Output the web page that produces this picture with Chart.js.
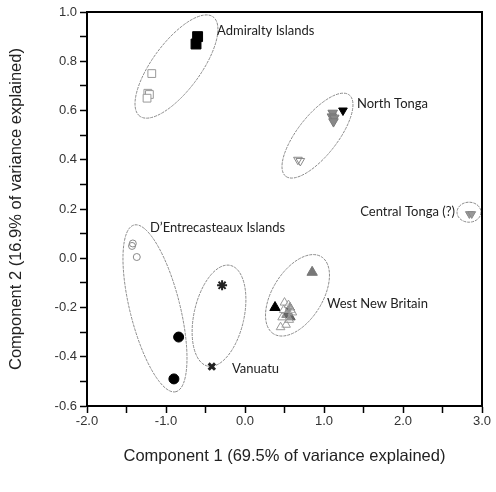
<!DOCTYPE html>
<html>
<head>
<meta charset="utf-8">
<script src="https://cdn.jsdelivr.net/npm/chart.js@4"></script>
<style>
  html, body { margin: 0; padding: 0; background: #fff; }
  #wrap { width: 496px; height: 492px; }
</style>
</head>
<body>
<div id="wrap"><canvas id="pca"></canvas></div>
<script>
// PCA scores, [component 1, component 2]
const admiraltyFilled = [[-0.60, 0.90], [-0.62, 0.87]];
const admiraltyOpen = [[-1.18, 0.75], [-1.23, 0.67], [-1.21, 0.665], [-1.24, 0.65]];
const northTongaBlack = [[1.24, 0.60]];
const northTongaGray = [[1.11, 0.59], [1.10, 0.575], [1.13, 0.57], [1.12, 0.555]];
const northTongaOpen = [[0.67, 0.40], [0.70, 0.395]];
const centralTonga = [[2.84, 0.18], [2.87, 0.18]];
const dentreOpen = [[-1.42, 0.06], [-1.43, 0.05], [-1.37, 0.005]];
const dentreFilled = [[-0.84, -0.32], [-0.90, -0.49]];
const vanuatuStar = [[-0.29, -0.11]];
const vanuatuCross = [[-0.42, -0.44]];
const wnbBlack = [[0.38, -0.20]];
const wnbGrayBig = [[0.85, -0.057]];
const wnbOpen = [[0.50, -0.18], [0.55, -0.19], [0.58, -0.21], [0.47, -0.24], [0.52, -0.27],
                 [0.60, -0.22], [0.49, -0.21], [0.56, -0.25], [0.45, -0.28]];
const wnbGray = [[0.55, -0.22], [0.58, -0.24], [0.52, -0.23], [0.57, -0.20]];

// group ellipses: major axis end points in data units
const ellipseEnds = [
  [-0.403, 0.980, -1.332, 0.577],
  [1.320, 0.663, 0.515, 0.333],
  [2.684, 0.187, 2.987, 0.187],
  [-1.404, 0.135, -0.875, -0.542],
  [-0.186, -0.029, -0.472, -0.438],
  [0.967, 0.006, 0.362, -0.307]
];
const ellipseHalfWidths = [24, 20, 10, 25, 25, 25];

// group labels
const labelNames = ['Admiralty Islands', 'North Tonga', 'Central Tonga (?)',
  'D\u2019Entrecasteaux Islands', 'Vanuatu', 'West New Britain'];
const labelX = [-0.354, 1.418, 2.658, -1.203, -0.165, 1.038];
const labelY = [0.923, 0.626, 0.187, 0.122, -0.451, -0.187];
const labelAlign = ['left', 'left', 'right', 'left', 'left', 'left'];

function pts(arr) {
  return arr.map(p => ({ x: p[0], y: p[1] }));
}

function series(arr, style, radius, fill, border, width, rotation) {
  return {
    data: pts(arr),
    pointStyle: style,
    pointRadius: radius,
    pointBackgroundColor: fill,
    pointBorderColor: border,
    pointBorderWidth: width,
    pointRotation: rotation || 0
  };
}

const datasets = [
  series(admiraltyOpen, 'rect', 5.5, '#fff', '#999', 1),
  series(admiraltyFilled, 'rect', 7, '#000', '#000', 1),
  series(northTongaOpen, 'triangle', 5, 'rgba(255,255,255,0)', '#888', 1, 180),
  series(northTongaGray, 'triangle', 5.5, '#888', '#777', 1, 180),
  series(northTongaBlack, 'triangle', 5, '#000', '#000', 1, 180),
  series(centralTonga, 'triangle', 4.5, '#999', '#888', 1, 180),
  series(dentreOpen, 'circle', 3.5, 'rgba(255,255,255,0)', '#888', 1),
  series(dentreFilled, 'circle', 5, '#000', '#000', 1),
  series(vanuatuStar, 'star', 5, '#000', '#222', 2),
  series(vanuatuCross, 'crossRot', 4.5, '#000', '#222', 3),
  series(wnbOpen, 'triangle', 5, 'rgba(255,255,255,0.3)', '#999', 1),
  series(wnbGray, 'triangle', 5, '#666', '#555', 1),
  series(wnbBlack, 'triangle', 6, '#000', '#000', 1),
  series(wnbGrayBig, 'triangle', 6, '#777', '#777', 1)
];

// ellipses, frame and labels drawn with the chart's scales
const overlay = {
  id: 'overlay',
  beforeDatasetsDraw(chart) {
    const { ctx, scales: { x, y } } = chart;
    ctx.save();
    ctx.strokeStyle = '#8a8a8a';
    ctx.lineWidth = 1;
    ctx.setLineDash([3, 1]);
    ellipseEnds.forEach((e, i) => {
      const x1 = x.getPixelForValue(e[0]), y1 = y.getPixelForValue(e[1]);
      const x2 = x.getPixelForValue(e[2]), y2 = y.getPixelForValue(e[3]);
      const a = Math.hypot(x2 - x1, y2 - y1) / 2;
      const ang = Math.atan2(y2 - y1, x2 - x1);
      ctx.beginPath();
      ctx.ellipse((x1 + x2) / 2, (y1 + y2) / 2, a, ellipseHalfWidths[i], ang, 0, Math.PI * 2);
      ctx.stroke();
    });
    ctx.restore();
  },
  afterDraw(chart) {
    const { ctx, chartArea: a, scales: { x, y } } = chart;
    ctx.save();
    ctx.strokeStyle = '#000';
    ctx.lineWidth = 2;
    ctx.strokeRect(a.left, a.top, a.right - a.left, a.bottom - a.top);
    ctx.fillStyle = '#222';
    ctx.font = '13px Lato, "Open Sans", sans-serif';
    ctx.textBaseline = 'middle';
    labelNames.forEach((t, i) => {
      ctx.textAlign = labelAlign[i];
      ctx.fillText(t, x.getPixelForValue(labelX[i]), y.getPixelForValue(labelY[i]));
    });
    ctx.restore();
  }
};

const tickGrid = {
  display: true,
  drawOnChartArea: false,
  drawTicks: true,
  tickLength: 7,
  tickWidth: 1.5,
  tickColor: '#000'
};

const axisFont = 'Arial, "Liberation Sans", sans-serif';

new Chart(document.getElementById('pca'), {
  type: 'scatter',
  data: { datasets: datasets },
  options: {
    responsive: true,
    maintainAspectRatio: false,
    animation: false,
    layout: { padding: { top: 12, right: 14, left: 3, bottom: 22 } },
    plugins: {
      legend: { display: false },
      tooltip: { enabled: false }
    },
    scales: {
      x: {
        min: -2, max: 3,
        border: { display: true, color: '#000', width: 2 },
        grid: tickGrid,
        ticks: {
          stepSize: 0.5,
          autoSkip: false,
          maxRotation: 0,
          padding: 1,
          color: '#333',
          font: { family: axisFont, size: 13 },
          callback: v => (Math.round(v * 2) % 2 === 0 ? v.toFixed(1) : '')
        },
        title: {
          display: true,
          text: 'Component 1 (69.5% of variance explained)',
          color: '#222',
          font: { family: axisFont, size: 16.5 },
          padding: { top: 0 }
        },
        afterFit(scale) { scale.height = 64; }
      },
      y: {
        min: -0.6, max: 1.0,
        border: { display: true, color: '#000', width: 2 },
        grid: tickGrid,
        ticks: {
          stepSize: 0.1,
          autoSkip: false,
          padding: 3,
          color: '#333',
          font: { family: axisFont, size: 13 },
          callback: v => (Math.round(v * 10) % 2 === 0 ? (Math.round(v * 10) / 10).toFixed(1) : '')
        },
        title: {
          display: true,
          text: 'Component 2 (16.9% of variance explained)',
          color: '#222',
          font: { family: axisFont, size: 16.5 },
          padding: { bottom: 4 }
        },
        afterFit(scale) { scale.width = 84; }
      }
    }
  },
  plugins: [overlay]
});
</script>
</body>
</html>
